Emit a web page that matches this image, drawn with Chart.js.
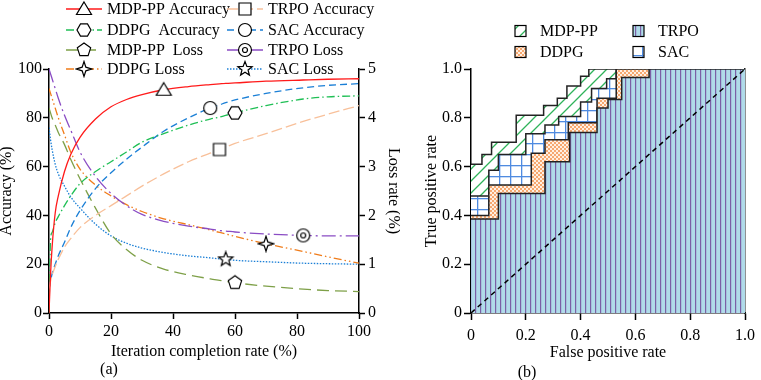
<!DOCTYPE html>
<html>
<head>
<meta charset="utf-8">
<script src="https://cdn.jsdelivr.net/npm/chart.js@4.4.0/dist/chart.umd.min.js"></script>
<style>
  body { margin: 0; background: #fff; font-family: 'Liberation Serif', serif; }
  #wrap { position: relative; width: 761px; height: 380px; }
  canvas { position: absolute; top: 0; }
  #chartA { left: 0; }
  #chartB { left: 400px; }
</style>
</head>
<body>
<div id="wrap">
  <canvas id="chartA" width="400" height="380"></canvas>
  <canvas id="chartB" width="361" height="380"></canvas>
</div>
<script>
// (a) accuracy / loss against iteration completion rate
const iteration = [0, 0.5, 1, 2, 3, 5, 7, 10, 15, 20, 25, 30, 37, 45, 52, 55, 57, 60, 70, 82, 90, 100];

const mdpAcc  = [0, 16, 27, 41, 48, 58, 65, 72, 79.5, 84.5, 87.5, 89.5, 91.5, 92.8, 93.6, 93.9, 94.1, 94.3, 95, 95.5, 95.8, 96];
const trpoAcc = [10, 13, 15.5, 19, 22, 27, 30.5, 35, 40, 44, 48, 52, 57, 62, 65.5, 67, 68, 69.5, 73.5, 78.5, 81.5, 85];
const ddpgAcc = [0, 30, 33, 37, 39.5, 44, 48, 53, 58, 62, 66, 70, 73.5, 77, 79.5, 80.3, 81, 82, 85, 87.7, 88.6, 89];
const sacAcc  = [10, 13, 16, 20, 23.5, 29, 35, 42, 51, 57.5, 63, 68, 74.5, 80, 84, 85.3, 86.2, 87.3, 90, 92.3, 93.3, 94];

const mdpLoss  = [4.2, 4.1, 4.0, 3.85, 3.7, 3.45, 3.15, 2.75, 2.15, 1.62, 1.3, 1.08, 0.9, 0.78, 0.7, 0.67, 0.65, 0.62, 0.55, 0.49, 0.46, 0.44];
const trpoLoss = [5.0, 4.9, 4.8, 4.6, 4.4, 4.05, 3.75, 3.3, 2.8, 2.45, 2.2, 2.02, 1.88, 1.78, 1.72, 1.69, 1.68, 1.66, 1.62, 1.59, 1.58, 1.58];
const ddpgLoss = [4.6, 4.5, 4.4, 4.2, 4.0, 3.65, 3.3, 2.95, 2.62, 2.4, 2.22, 2.08, 1.93, 1.81, 1.7, 1.65, 1.62, 1.57, 1.42, 1.26, 1.15, 1.02];
const sacLoss  = [3.8, 3.55, 3.35, 3.05, 2.85, 2.6, 2.38, 2.15, 1.82, 1.58, 1.43, 1.33, 1.24, 1.17, 1.13, 1.11, 1.1, 1.08, 1.05, 1.02, 1.01, 1.0];

// x position of the single marker on each curve
const markerX = [37, 55, 60, 52, 60, 82, 70, 57];

// (b) ROC steps: false positive rate where the step happens, true positive rate after it
const mdpFpr  = [0, 0.04, 0.075, 0.165, 0.265, 0.315, 0.35, 0.40, 0.43, 1.0];
const mdpTpr  = [0.61, 0.65, 0.70, 0.81, 0.85, 0.88, 0.93, 0.97, 1.0, 1.0];
const sacFpr  = [0, 0.065, 0.10, 0.20, 0.27, 0.32, 0.40, 0.44, 0.495, 0.53, 1.0];
const sacTpr  = [0.48, 0.585, 0.65, 0.735, 0.77, 0.805, 0.865, 0.92, 0.96, 1.0, 1.0];
const ddpgFpr = [0, 0.065, 0.22, 0.27, 0.355, 0.46, 0.53, 1.0];
const ddpgTpr = [0.40, 0.525, 0.655, 0.71, 0.78, 0.88, 1.0, 1.0];
const trpoFpr = [0, 0.10, 0.27, 0.36, 0.46, 0.50, 0.55, 0.65, 1.0];
const trpoTpr = [0.385, 0.49, 0.62, 0.74, 0.84, 0.875, 0.965, 1.0, 1.0];
const chanceX = [0, 1];
const chanceY = [0, 1];

const serif = "'Liberation Serif', 'Times New Roman', serif";
Chart.defaults.font.family = serif;
Chart.defaults.font.size = 16;
Chart.defaults.color = "#000";

function pts(xs, ys) {
    return xs.map((x, i) => ({ x: x, y: ys[i] }));
}

// hollow markers
function marker(shape) {
    const c = document.createElement("canvas");
    c.width = 18;
    c.height = 18;
    const g = c.getContext("2d");
    g.translate(9, 9);
    g.lineWidth = 1.2;
    g.strokeStyle = "#000";
    g.fillStyle = "#fff";
    g.beginPath();
    const poly = (n, r, start, inner) => {
        const k = inner ? n * 2 : n;
        for (let i = 0; i < k; i++) {
            const a = start + (i * Math.PI * 2) / k;
            const rr = inner && i % 2 ? inner : r;
            const px = rr * Math.cos(a), py = rr * Math.sin(a);
            i ? g.lineTo(px, py) : g.moveTo(px, py);
        }
        g.closePath();
    };
    if (shape === "triangle") { g.moveTo(0, -7); g.lineTo(7.5, 5.5); g.lineTo(-7.5, 5.5); g.closePath(); }
    if (shape === "square") g.rect(-6, -6, 12, 12);
    if (shape === "circle" || shape === "target") g.arc(0, 0, 6.5, 0, Math.PI * 2);
    if (shape === "hexagon") poly(6, 7, 0);
    if (shape === "pentagon") poly(5, 7, -Math.PI / 2);
    if (shape === "star4") poly(4, 7.5, -Math.PI / 2, 2.6);
    if (shape === "star5") poly(5, 7.5, -Math.PI / 2, 3.2);
    g.fill();
    g.stroke();
    if (shape === "target") {
        g.beginPath();
        g.arc(0, 0, 2.5, 0, Math.PI * 2);
        g.stroke();
    }
    return c;
}

function tile(w, h, draw) {
    const c = document.createElement("canvas");
    c.width = w;
    c.height = h;
    draw(c.getContext("2d"));
    return document.createElement("canvas").getContext("2d").createPattern(c, "repeat");
}

const hatch = tile(12, 12, g => {
    g.fillStyle = "#fff"; g.fillRect(0, 0, 12, 12);
    g.strokeStyle = "#2fb35a"; g.lineWidth = 1.3;
    g.beginPath();
    g.moveTo(-1, 13); g.lineTo(13, -1);
    g.moveTo(-1, 1); g.lineTo(1, -1);
    g.moveTo(11, 13); g.lineTo(13, 11);
    g.stroke();
});
const dots = tile(4, 4, g => {
    g.fillStyle = "#fff0e2"; g.fillRect(0, 0, 4, 4);
    g.fillStyle = "#f6a870"; g.fillRect(0, 0, 2, 2); g.fillRect(2, 2, 2, 2);
});
const stripes = tile(5, 5, g => {
    g.fillStyle = "#b0dbe9"; g.fillRect(0, 0, 5, 5);
    g.fillStyle = "#7b5fa6"; g.fillRect(0, 0, 1.2, 5);
});
const grid = tile(11, 11, g => {
    g.fillStyle = "#fff"; g.fillRect(0, 0, 11, 11);
    g.fillStyle = "#4f8be0"; g.fillRect(0, 0, 11, 1.3); g.fillRect(0, 0, 1.3, 11);
});

const tickGrid = { drawOnChartArea: false, tickLength: 6, tickColor: "#000", tickWidth: 1.5 };
const axisBorder = { color: "#000", width: 1.5 };

function curve(label, ys, axis, color, dash, shape, k) {
    const at = iteration.indexOf(markerX[k]);
    return {
        label: label,
        data: pts(iteration, ys),
        yAxisID: axis,
        borderColor: color,
        borderWidth: 1.3,
        borderDash: dash,
        cubicInterpolationMode: "monotone",
        pointStyle: marker(shape),
        pointRadius: c => (c.dataIndex === at ? 7 : 0),
        fill: false,
    };
}

const legendA = {
    id: "legendA",
    afterDraw(chart) {
        const ctx = chart.ctx;
        const cols = [66, 227], rows = [9, 30, 50, 69];
        chart.data.datasets.forEach((ds, i) => {
            const x0 = cols[i % 2], y = rows[Math.floor(i / 2)];
            ctx.save();
            ctx.strokeStyle = ds.borderColor;
            ctx.lineWidth = ds.borderWidth;
            ctx.setLineDash(ds.borderDash);
            ctx.beginPath();
            ctx.moveTo(x0, y);
            ctx.lineTo(x0 + 36, y);
            ctx.stroke();
            ctx.drawImage(ds.pointStyle, x0 + 18 - 9, y - 9);
            ctx.fillStyle = "#000";
            ctx.font = "16px " + serif;
            ctx.textBaseline = "middle";
            ctx.fillText(ds.label, x0 + 41, y + 1);
            ctx.restore();
        });
        ctx.save();
        ctx.font = "16px " + serif;
        ctx.textAlign = "center";
        ctx.textBaseline = "middle";
        ctx.fillText("(a)", 109, 370);
        ctx.restore();
    },
};

const legendB = {
    id: "legendB",
    afterDraw(chart) {
        const ctx = chart.ctx;
        const items = [["MDP-PP", hatch, 115, 31], ["TRPO", stripes, 233, 31], ["DDPG", dots, 115, 52], ["SAC", grid, 233, 52]];
        ctx.save();
        ctx.font = "16px " + serif;
        ctx.textBaseline = "middle";
        items.forEach(([name, fill, x, y]) => {
            ctx.fillStyle = fill;
            ctx.fillRect(x, y - 5.5, 11, 11);
            ctx.strokeStyle = "#000";
            ctx.lineWidth = 1.2;
            ctx.strokeRect(x, y - 5.5, 11, 11);
            ctx.fillStyle = "#000";
            ctx.fillText(name, x + 25, y + 1);
        });
        ctx.textAlign = "center";
        ctx.fillText("(b)", 127, 373);
        ctx.restore();
    },
};

function roc(label, xs, ys, fill) {
    return {
        label: label,
        data: pts(xs, ys),
        stepped: true,
        borderColor: "#222",
        borderWidth: 1.5,
        backgroundColor: fill,
        fill: "origin",
        pointRadius: 0,
    };
}

const rateTick = v => (v === 0 ? "0" : v.toFixed(1));

function drawCharts() {
    new Chart(document.getElementById("chartA"), {
        type: "line",
        data: {
            datasets: [
                curve("MDP-PP Accuracy", mdpAcc, "y", "#ff1a1a", [], "triangle", 0),
                curve("TRPO Accuracy", trpoAcc, "y", "#f8c09a", [11, 4], "square", 1),
                curve("DDPG  Accuracy", ddpgAcc, "y", "#1fbf55", [8, 3, 1.5, 3], "hexagon", 2),
                curve("SAC Accuracy", sacAcc, "y", "#1a7fd6", [7, 4], "circle", 3),
                curve("MDP-PP  Loss", mdpLoss, "y1", "#7ea048", [12, 6], "pentagon", 4),
                curve("TRPO Loss", trpoLoss, "y1", "#8a4cc4", [14, 4, 2, 4], "target", 5),
                curve("DDPG Loss", ddpgLoss, "y1", "#f07c1a", [8, 3, 1.5, 3, 1.5, 3], "star4", 6),
                curve("SAC Loss", sacLoss, "y1", "#1a7fd6", [1.5, 1.5], "star5", 7),
            ],
        },
        options: {
            responsive: false,
            animation: false,
            events: [],
            layout: { padding: { top: 69, left: 0, right: 0, bottom: 0 } },
            plugins: { legend: { display: false }, tooltip: { enabled: false } },
            scales: {
                x: {
                    type: "linear", min: 0, max: 100,
                    ticks: { stepSize: 20, padding: 3, maxRotation: 0 },
                    grid: tickGrid, border: axisBorder,
                    title: { display: true, text: "Iteration completion rate (%)", padding: { top: 0, bottom: 20 }, font: { lineHeight: 1 } },
                    afterFit(s) { s.height = 67; },
                },
                y: {
                    position: "left", min: 0, max: 100,
                    ticks: { stepSize: 20, padding: 1 },
                    grid: tickGrid, border: axisBorder,
                    title: { display: true, text: "Accuracy (%)", padding: { top: -1, bottom: 0 }, font: { lineHeight: 1 } },
                    afterFit(s) { s.width = 49; },
                },
                y1: {
                    position: "right", min: 0, max: 5,
                    ticks: { stepSize: 1, padding: 3 },
                    grid: tickGrid, border: axisBorder,
                    title: { display: true, text: "Loss rate (%)", padding: { top: -1, bottom: 0 }, font: { lineHeight: 1 } },
                    afterFit(s) { s.width = 41; },
                },
            },
        },
        plugins: [legendA],
    });

    new Chart(document.getElementById("chartB"), {
        type: "line",
        data: {
            datasets: [
                {
                    label: "chance",
                    data: pts(chanceX, chanceY),
                    borderColor: "#000",
                    borderWidth: 1.5,
                    borderDash: [5, 4],
                    pointRadius: 0,
                    fill: false,
                },
                roc("TRPO", trpoFpr, trpoTpr, stripes),
                roc("DDPG", ddpgFpr, ddpgTpr, dots),
                roc("SAC", sacFpr, sacTpr, grid),
                roc("MDP-PP", mdpFpr, mdpTpr, hatch),
            ],
        },
        options: {
            responsive: false,
            animation: false,
            events: [],
            layout: { padding: { top: 69, left: 0, right: 12, bottom: 0 } },
            plugins: { legend: { display: false }, tooltip: { enabled: false } },
            scales: {
                x: {
                    type: "linear", min: 0, max: 1,
                    ticks: { stepSize: 0.2, padding: 6, maxRotation: 0, callback: rateTick },
                    grid: { drawOnChartArea: false, tickLength: 7, tickColor: "#000", tickWidth: 1.5 },
                    border: axisBorder,
                    title: { display: true, text: "False positive rate", padding: { top: 0, bottom: 19 }, font: { lineHeight: 1 } },
                    afterFit(s) { s.height = 67; },
                },
                y: {
                    position: "left", min: 0, max: 1,
                    ticks: { stepSize: 0.2, padding: 2, callback: rateTick },
                    grid: { drawOnChartArea: false, tickLength: 7, tickColor: "#000", tickWidth: 1.5 },
                    border: axisBorder,
                    title: { display: true, text: "True positive rate", padding: { top: 24, bottom: 0 }, font: { lineHeight: 1 } },
                    afterFit(s) { s.width = 71; },
                },
                yr: {
                    position: "right", min: 0, max: 1,
                    ticks: { display: false },
                    grid: { display: false },
                    border: { color: "#222", width: 1.5 },
                    afterFit(s) { s.width = 0; },
                },
            },
        },
        plugins: [legendB],
    });
}

document.fonts.load("16px 'Liberation Serif'").then(drawCharts, drawCharts);
</script>
</body>
</html>
